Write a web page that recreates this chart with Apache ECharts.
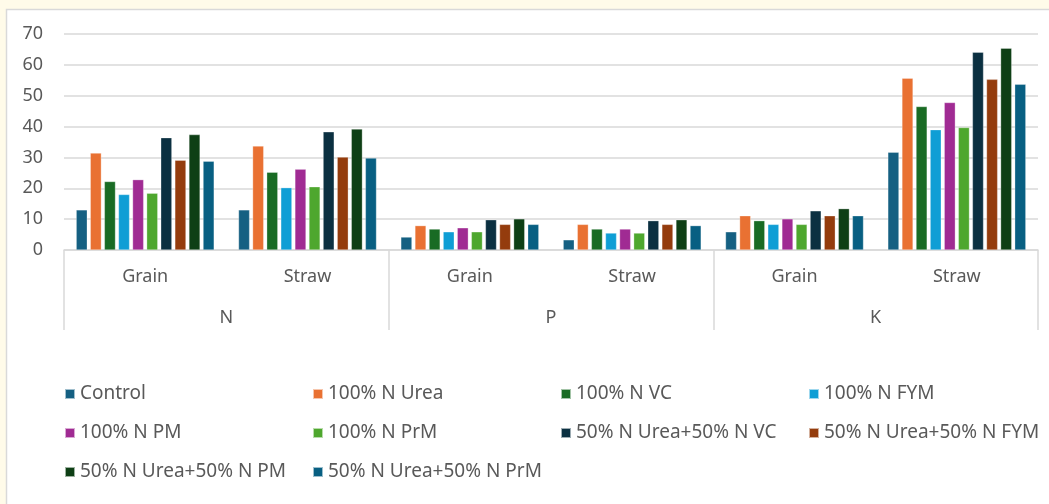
<!DOCTYPE html>
<html>
<head>
<meta charset="UTF-8">
<title></title>
<style>
  html, body { margin: 0; padding: 0; background: #fffbe9; }
  #box { width: 1049px; height: 504px; }
</style>
</head>
<body>
<div id="box"></div>
<script src="https://cdn.jsdelivr.net/npm/echarts@6/dist/echarts.min.js"></script>
<script>
const parts = ['Grain', 'Straw', 'Grain', 'Straw', 'Grain', 'Straw'];
const nutrients = ['N', 'P', 'K'];
const yTicks = { min: 0, max: 70, interval: 10 };

const treatments = [
  'Control', '100% N Urea', '100% N VC', '100% N FYM',
  '100% N PM', '100% N PrM', '50% N Urea+50% N VC', '50% N Urea+50% N FYM',
  '50% N Urea+50% N PM', '50% N Urea+50% N PrM'
];
const colors = ['#156082', '#e97132', '#196b24', '#0f9ed5', '#a02b93',
  '#4ea72e', '#0b3041', '#943c0d', '#0e3f15', '#085f82'];

// one value per column: N Grain, N Straw, P Grain, P Straw, K Grain, K Straw
const control   = [13.0, 13.0, 4.2, 3.3, 5.9, 31.7];
const urea      = [31.4, 33.7, 7.9, 8.3, 11.1, 55.7];
const vc        = [22.2, 25.2, 6.8, 6.8, 9.5, 46.5];
const fym       = [18.0, 20.2, 5.9, 5.5, 8.3, 39.0];
const pm        = [22.8, 26.2, 7.2, 6.8, 10.1, 47.8];
const prm       = [18.4, 20.5, 5.9, 5.5, 8.3, 39.7];
const ureaVc    = [36.4, 38.3, 9.8, 9.5, 12.7, 64.1];
const ureaFym   = [29.1, 30.1, 8.3, 8.3, 11.1, 55.3];
const ureaPm    = [37.4, 39.2, 10.1, 9.8, 13.4, 65.4];
const ureaPrm   = [28.8, 29.8, 8.3, 7.9, 11.1, 53.7];
const values = [control, urea, vc, fym, pm, prm, ureaVc, ureaFym, ureaPm, ureaPrm];

const font = 'Noto Sans';
const grey = '#595959';
const lineGrey = '#d9d9d9';

const chart = echarts.init(document.getElementById('box'));

// legend laid out as a 4-column grid; the last column is a bit narrower so it fits
const legendData = treatments.map((name, i) => ({
  name: name,
  textStyle: { width: i % 4 === 3 ? 216 : 231 }
}));

chart.setOption({
  color: colors,
  textStyle: { fontFamily: font },
  graphic: [{
    type: 'rect',
    z: -10,
    shape: { x: 6.5, y: 9.5, width: 1100, height: 600 },
    style: { fill: '#ffffff', stroke: lineGrey, lineWidth: 1.5 }
  }],
  grid: { left: 64, right: 11, top: 34, bottom: 254 },
  legend: {
    data: legendData,
    left: 64,
    top: 375,
    width: 985,
    padding: 0,
    itemWidth: 10,
    itemHeight: 10,
    itemGap: 1,
    icon: 'rect',
    textStyle: { color: grey, fontSize: 19, lineHeight: 38 }
  },
  xAxis: [{
    type: 'category',
    data: parts,
    axisLine: { lineStyle: { color: lineGrey, width: 1.5 } },
    axisTick: { show: false },
    axisLabel: { color: grey, fontSize: 18, margin: 18 }
  }, {
    type: 'category',
    data: nutrients,
    position: 'bottom',
    axisLine: { show: false },
    axisTick: { show: true, length: 80, lineStyle: { color: lineGrey, width: 1.5 } },
    axisLabel: { color: grey, fontSize: 18, margin: 59 }
  }],
  yAxis: {
    type: 'value',
    min: yTicks.min,
    max: yTicks.max,
    interval: yTicks.interval,
    axisLine: { show: false },
    axisTick: { show: false },
    axisLabel: { color: grey, fontSize: 18, margin: 21 },
    splitLine: { lineStyle: { color: lineGrey, width: 1.5 } }
  },
  series: treatments.map((name, i) => ({
    name: name,
    type: 'bar',
    xAxisIndex: 0,
    data: values[i],
    barGap: '27%',
    barCategoryGap: '15%',
    itemStyle: { borderColor: 'rgba(255,255,255,0.6)', borderWidth: 0.5 }
  }))
});
</script>
</body>
</html>
